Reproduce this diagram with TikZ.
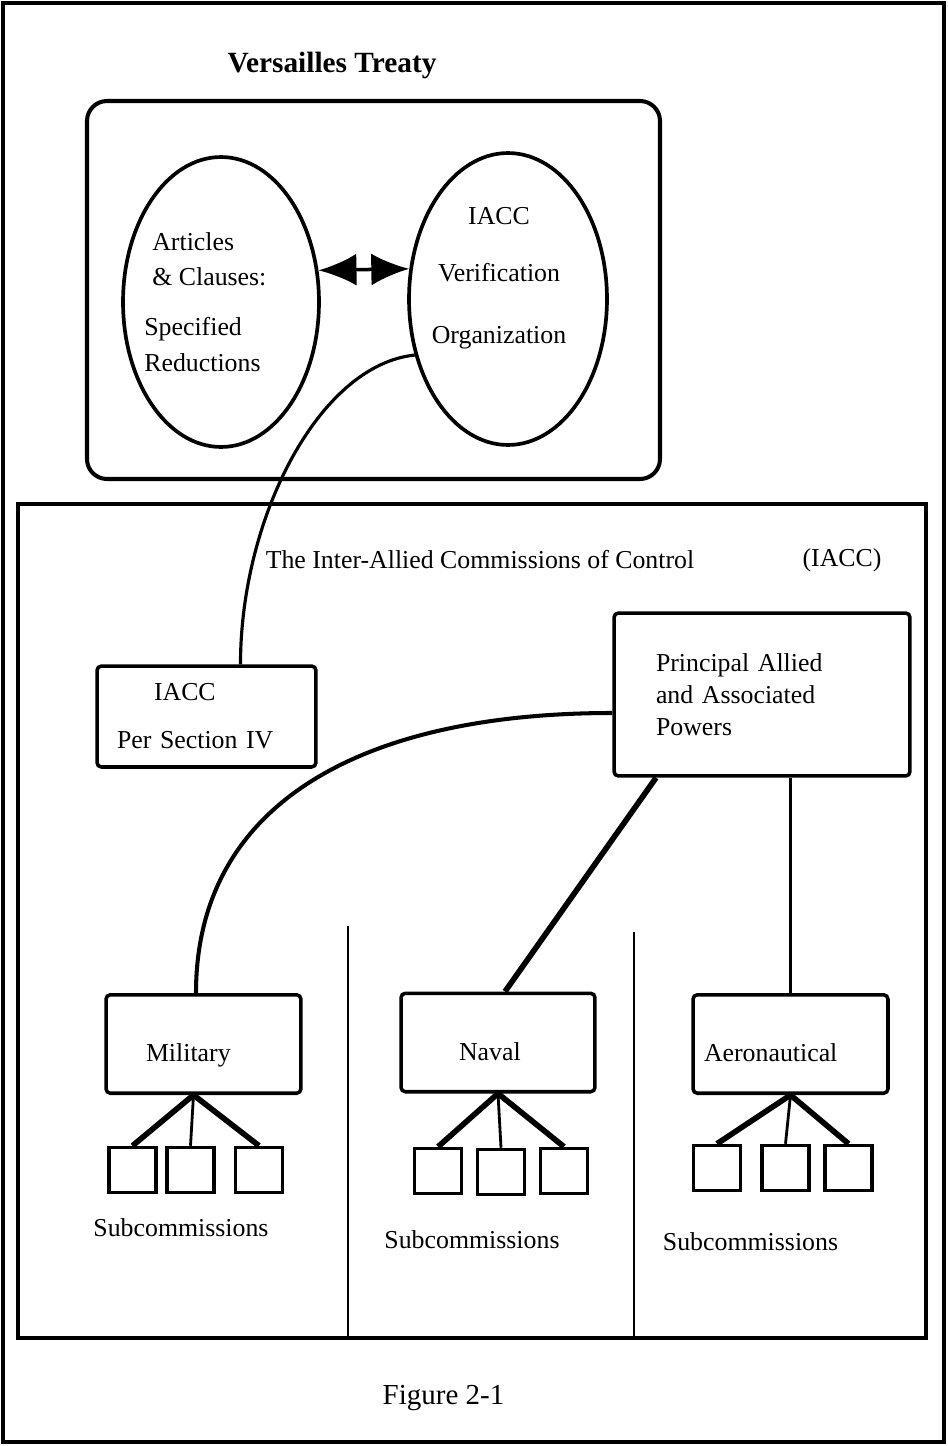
\documentclass[tikz,border=0pt]{standalone}
\usepackage{fontspec}
\setmainfont{Liberation Serif}
\usetikzlibrary{shapes.geometric,arrows.meta}

\begin{document}
\begin{tikzpicture}[x=0.02cm,y=-0.02cm,
    lbl/.style={font=\fontsize{14.7}{17.6}\selectfont, inner sep=0pt},
    oval/.style={draw, ellipse, line width=2.1pt, inner sep=0pt},
    cbox/.style={draw, line width=2pt, rounded corners=2.5pt, inner sep=0pt, align=left, font=\fontsize{14.7}{17.6}\selectfont},
    unitbox/.style={cbox, text height=20pt, text depth=0pt, minimum height=1.97cm},
    subbox/.style={draw, line width=2pt, minimum width=0.94cm, minimum height=0.9cm, inner sep=0pt},
    heavy/.style={line width=3.2pt},
    light/.style={line width=1.6pt}]
  \useasboundingbox (0,0) rectangle (947,1446);
  \draw[line width=1.9pt] (3,3) rectangle (944,1442);
  \draw[line width=2.3pt, rounded corners=0.4cm] (87,101) rectangle (660,479);
  \draw[line width=2.3pt] (18,504) rectangle (926,1338);
  \draw[light] (348,926) -- (348,1338);
  \draw[light] (634,932) -- (634,1338);

  \node[font=\fontsize{16.7}{20}\selectfont\bfseries] (treaty) at (332,65) {Versailles Treaty};
  \node[oval, minimum width=3.92cm, minimum height=5.8cm] (clauses) at (221,302) {};
  \node[oval, minimum width=3.96cm, minimum height=5.84cm] (verif) at (508,299) {};
  \node[lbl, font=\fontsize{14.7}{20}\selectfont, align=left, anchor=west] (clausestxt) at (144,302)
    {\hspace{0.16cm}Articles\\\hspace{0.16cm}\& Clauses:\\[8.6pt]Specified\\Reductions};
  \node[lbl, font=\fontsize{14.7}{20}\selectfont, align=center] (veriftxt) at (499,278)
    {IACC\\[12.3pt]Verification\\[15.2pt]Organization};
  \draw[{Latex[length=0.76cm,width=0.64cm]}-{Latex[length=0.76cm,width=0.64cm]}, line width=2pt] (clauses.18) -- (verif.163);

  \node[lbl] (iaccname) at (480,560) {The Inter-Allied Commissions of Control};
  \node[lbl] (iaccabbr) at (842,560) {(IACC)};

  \node[cbox, minimum width=4.38cm, minimum height=2.02cm, text width=3.58cm] (iacc) at (206.5,716.5)
    {\hspace{0.74cm}IACC\\[9.6pt]Per Section IV};
  \node[cbox, minimum width=5.92cm, minimum height=3.26cm, text width=4.24cm, font=\fontsize{14.7}{18.1}\selectfont] (powers) at (762,694.5)
    {Principal Allied\\and Associated\\Powers};

  \node[unitbox, minimum width=3.9cm, text width=2.3cm] (military) at (203.5,1044) {Military};
  \node[unitbox, minimum width=3.88cm, text width=1.56cm] (naval) at (498,1042.5) {Naval};
  \node[unitbox, minimum width=3.9cm, text width=3.46cm] (aero) at (790.5,1044) {Aeronautical};

  \draw[line width=1.8pt] (verif.211) .. controls +(-96,10) and +(0,-146) .. ([xshift=0.68cm]iacc.north);
  \draw[line width=2.3pt] ([yshift=-0.37cm]powers.west) .. controls +(-250,0) and +(0,-190) .. ([xshift=-0.15cm]military.north);
  \draw[heavy] ([xshift=-2.12cm]powers.south) -- ([xshift=0.14cm]naval.north);
  \draw[light] (aero.north |- powers.south) -- (aero.north);

  \node[subbox] (mil1) at (132.5,1170) {};
  \node[subbox] (mil2) at (190.5,1170) {};
  \node[subbox] (mil3) at (259,1170) {};
  \node[subbox] (nav1) at (438,1171) {};
  \node[subbox] (nav2) at (501,1172) {};
  \node[subbox] (nav3) at (564,1171) {};
  \node[subbox] (aer1) at (717,1168) {};
  \node[subbox] (aer2) at (785.5,1168) {};
  \node[subbox] (aer3) at (848.5,1168) {};

  \draw[heavy] ([xshift=-0.2cm]military.south) -- (mil1.north);
  \draw[light] ([xshift=-0.2cm]military.south) -- (mil2.north);
  \draw[heavy] ([xshift=-0.2cm]military.south) -- (mil3.north);
  \draw[heavy] (naval.south) -- (nav1.north);
  \draw[light] (naval.south) -- (nav2.north);
  \draw[heavy] (naval.south) -- (nav3.north);
  \draw[heavy] (aero.south) -- (aer1.north);
  \draw[light] (aero.south) -- (aer2.north);
  \draw[heavy] (aero.south) -- (aer3.north);

  \node[lbl] (milsub) at (181,1228) {Subcommissions};
  \node[lbl] (navsub) at (472,1240) {Subcommissions};
  \node[lbl] (aerosub) at (750.5,1242) {Subcommissions};
  \node[font=\fontsize{16.5}{20}\selectfont] (figno) at (443.5,1398) {Figure 2-1};
\end{tikzpicture}
\end{document}
